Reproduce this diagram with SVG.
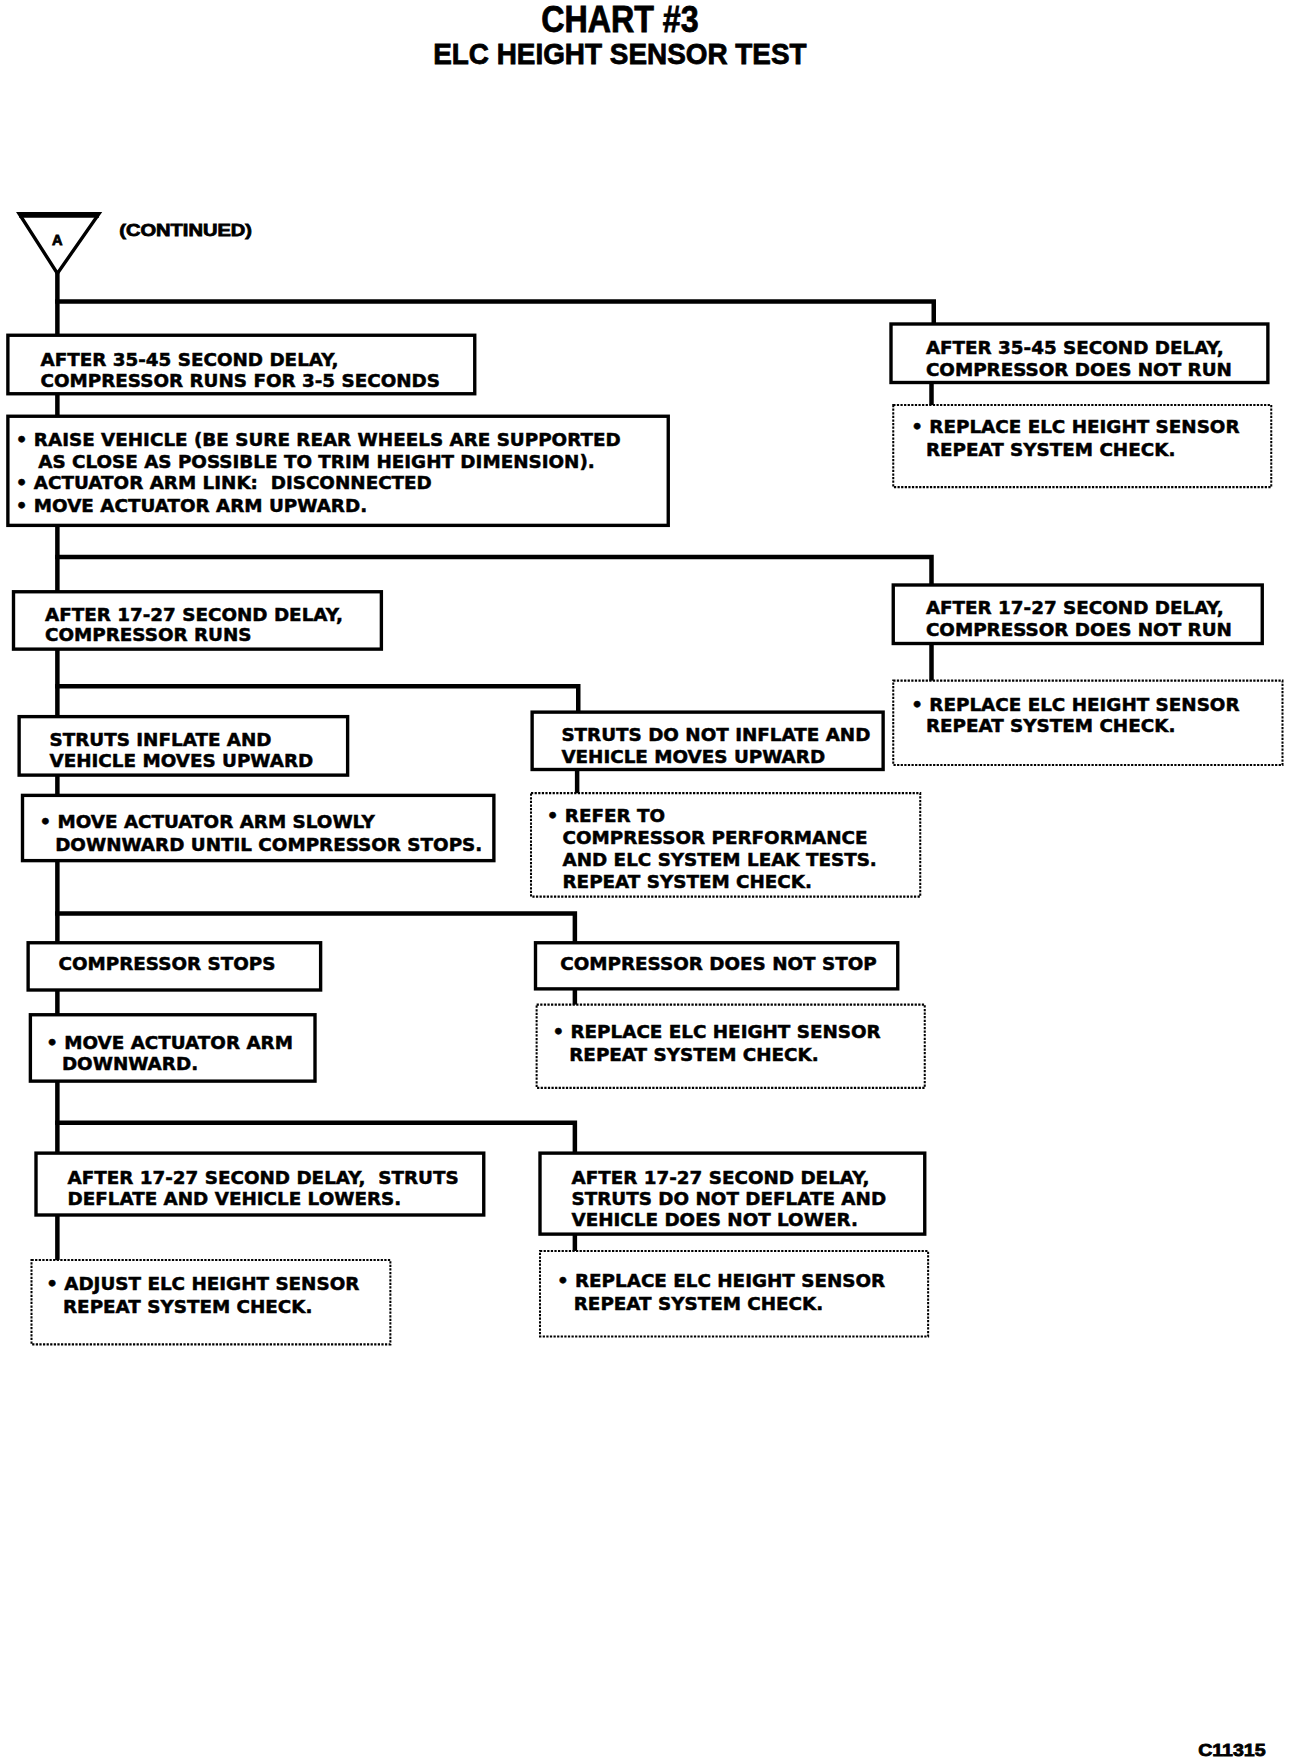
<svg xmlns="http://www.w3.org/2000/svg" width="1296" height="1762" viewBox="0 0 1296 1762">
<style>
.t{font-family:"DejaVu Sans","Liberation Sans",sans-serif;font-weight:bold;font-size:16.3px;fill:#000;stroke:#000;stroke-width:0.45}
.h{font-family:"Liberation Sans","DejaVu Sans",sans-serif;font-weight:bold;fill:#000;stroke:#000;stroke-width:0.7}
.box{fill:#fff;stroke:#000;stroke-width:3}
.dot{fill:#fff;stroke:#000;stroke-width:1.8;stroke-dasharray:2 1.2}
.c{fill:none;stroke:#000;stroke-width:4;stroke-linecap:square}
</style>
<rect width="1296" height="1762" fill="#fff"/>
<g transform="scale(1.125)">
<g id="title">
<text class="h" x="551" y="28" font-size="32" text-anchor="middle" textLength="140" lengthAdjust="spacingAndGlyphs">CHART #3</text>
<text class="h" x="551" y="57" font-size="26" text-anchor="middle" textLength="332" lengthAdjust="spacingAndGlyphs">ELC HEIGHT SENSOR TEST</text>
</g>
<g id="connectors">
<path class="c" d="M51,243 V1120"/>
<path class="c" d="M51,268 H830 V288"/>
<path class="c" d="M828,340 V360"/>
<path class="c" d="M51,495 H828 V520"/>
<path class="c" d="M828,572 V605"/>
<path class="c" d="M51,610 H514 V633"/>
<path class="c" d="M513,684 V705"/>
<path class="c" d="M51,812 H511 V838"/>
<path class="c" d="M511,879 V893"/>
<path class="c" d="M51,998 H511 V1025"/>
<path class="c" d="M511,1097 V1112"/>
</g>
<g id="start">
<polygon points="17,190 88,190 51,243" fill="#fff" stroke="#000" stroke-width="3" stroke-linejoin="miter"/>
<line x1="17" y1="191" x2="88" y2="191" stroke="#000" stroke-width="5"/>
<text class="h" x="51" y="218" font-size="13" text-anchor="middle">A</text>
<text class="h" x="106" y="210" font-size="15" textLength="118" lengthAdjust="spacingAndGlyphs">(CONTINUED)</text>
</g>
<g id="b1">
<rect class="box" x="7" y="298" width="415" height="52"/>
<text class="t" x="36" y="325">AFTER 35-45 SECOND DELAY,</text>
<text class="t" x="36" y="344">COMPRESSOR RUNS FOR 3-5 SECONDS</text>
</g>
<g id="b2">
<rect class="box" x="7" y="370" width="587" height="97"/>
<text class="t" x="14" y="396">• RAISE VEHICLE (BE SURE REAR WHEELS ARE SUPPORTED</text>
<text class="t" x="34" y="416">AS CLOSE AS POSSIBLE TO TRIM HEIGHT DIMENSION).</text>
<text class="t" x="14" y="435">• ACTUATOR ARM LINK:&#160; DISCONNECTED</text>
<text class="t" x="14" y="455">• MOVE ACTUATOR ARM UPWARD.</text>
</g>
<g id="r1">
<rect class="box" x="792" y="288" width="335" height="52"/>
<text class="t" x="823" y="315">AFTER 35-45 SECOND DELAY,</text>
<text class="t" x="823" y="334">COMPRESSOR DOES NOT RUN</text>
</g>
<g id="r1d">
<rect class="dot" x="794" y="360" width="336" height="73"/>
<text class="t" x="810" y="385">• REPLACE ELC HEIGHT SENSOR</text>
<text class="t" x="823" y="405">REPEAT SYSTEM CHECK.</text>
</g>
<g id="b3">
<rect class="box" x="12" y="526" width="327" height="51"/>
<text class="t" x="40" y="552">AFTER 17-27 SECOND DELAY,</text>
<text class="t" x="40" y="570">COMPRESSOR RUNS</text>
</g>
<g id="r2">
<rect class="box" x="794" y="520" width="328" height="52"/>
<text class="t" x="823" y="546">AFTER 17-27 SECOND DELAY,</text>
<text class="t" x="823" y="565">COMPRESSOR DOES NOT RUN</text>
</g>
<g id="r2d">
<rect class="dot" x="794" y="605" width="346" height="75"/>
<text class="t" x="810" y="632">• REPLACE ELC HEIGHT SENSOR</text>
<text class="t" x="823" y="651">REPEAT SYSTEM CHECK.</text>
</g>
<g id="b4">
<rect class="box" x="17" y="637" width="292" height="52"/>
<text class="t" x="44" y="663">STRUTS INFLATE AND</text>
<text class="t" x="44" y="682">VEHICLE MOVES UPWARD</text>
</g>
<g id="m4">
<rect class="box" x="473" y="633" width="312" height="51"/>
<text class="t" x="499" y="659">STRUTS DO NOT INFLATE AND</text>
<text class="t" x="499" y="678">VEHICLE MOVES UPWARD</text>
</g>
<g id="b5">
<rect class="box" x="20" y="707" width="419" height="58"/>
<text class="t" x="35" y="736">• MOVE ACTUATOR ARM SLOWLY</text>
<text class="t" x="49" y="756">DOWNWARD UNTIL COMPRESSOR STOPS.</text>
</g>
<g id="m5d">
<rect class="dot" x="472" y="705" width="346" height="92"/>
<text class="t" x="486" y="731">• REFER TO</text>
<text class="t" x="500" y="750">COMPRESSOR PERFORMANCE</text>
<text class="t" x="500" y="770">AND ELC SYSTEM LEAK TESTS.</text>
<text class="t" x="500" y="789">REPEAT SYSTEM CHECK.</text>
</g>
<g id="b6">
<rect class="box" x="25" y="838" width="260" height="42"/>
<text class="t" x="52" y="862">COMPRESSOR STOPS</text>
</g>
<g id="m6">
<rect class="box" x="476" y="838" width="322" height="41"/>
<text class="t" x="498" y="862">COMPRESSOR DOES NOT STOP</text>
</g>
<g id="b7">
<rect class="box" x="27" y="902" width="253" height="59"/>
<text class="t" x="41" y="932">• MOVE ACTUATOR ARM</text>
<text class="t" x="55" y="951">DOWNWARD.</text>
</g>
<g id="m7d">
<rect class="dot" x="477" y="893" width="345" height="74"/>
<text class="t" x="491" y="923">• REPLACE ELC HEIGHT SENSOR</text>
<text class="t" x="506" y="943">REPEAT SYSTEM CHECK.</text>
</g>
<g id="b8">
<rect class="box" x="32" y="1025" width="398" height="55"/>
<text class="t" x="60" y="1052">AFTER 17-27 SECOND DELAY,&#160; STRUTS</text>
<text class="t" x="60" y="1071">DEFLATE AND VEHICLE LOWERS.</text>
</g>
<g id="m8">
<rect class="box" x="480" y="1025" width="342" height="72"/>
<text class="t" x="508" y="1052">AFTER 17-27 SECOND DELAY,</text>
<text class="t" x="508" y="1071">STRUTS DO NOT DEFLATE AND</text>
<text class="t" x="508" y="1090">VEHICLE DOES NOT LOWER.</text>
</g>
<g id="b9d">
<rect class="dot" x="28" y="1120" width="319" height="75"/>
<text class="t" x="41" y="1147">• ADJUST ELC HEIGHT SENSOR</text>
<text class="t" x="56" y="1167">REPEAT SYSTEM CHECK.</text>
</g>
<g id="m9d">
<rect class="dot" x="480" y="1112" width="345" height="76"/>
<text class="t" x="495" y="1144">• REPLACE ELC HEIGHT SENSOR</text>
<text class="t" x="510" y="1164">REPEAT SYSTEM CHECK.</text>
</g>
<g id="ref">
<text class="h" x="1065" y="1561" font-size="15" textLength="60" lengthAdjust="spacingAndGlyphs">C11315</text>
</g>
</g>
</svg>
